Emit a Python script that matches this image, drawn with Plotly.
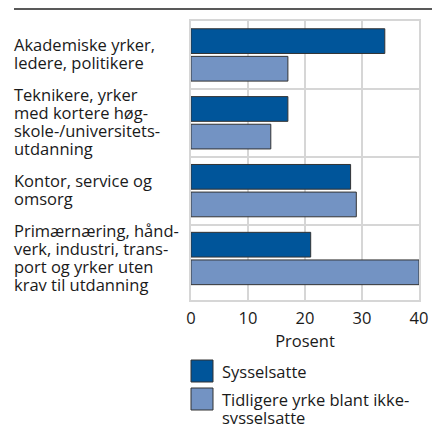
import plotly.graph_objects as go

# Data
categories = [
    "Akademiske yrker, ledere, politikere",
    "Teknikere, yrker med kortere høgskole-/universitetsutdanning",
    "Kontor, service og omsorg",
    "Primærnæring, håndverk, industri, transport og yrker uten krav til utdanning",
]
category_lines = [
    ["Akademiske yrker,", "ledere, politikere"],
    ["Teknikere, yrker", "med kortere høg-", "skole-/universitets-", "utdanning"],
    ["Kontor, service og", "omsorg"],
    ["Primærnæring, hånd-", "verk, industri, trans-", "port og yrker uten", "krav til utdanning"],
]
sysselsatte = [34, 17, 28, 21]
ikke_sysselsatte = [17, 14, 29, 40]
series_names = ["Sysselsatte", "Tidligere yrke blant ikke-sysselsatte"]
legend_lines = [["Sysselsatte"], ["Tidligere yrke blant ikke-", "sysselsatte"]]
x_ticks = [0, 10, 20, 30, 40]

dark_blue = "#00559a"
light_blue = "#7393c3"
grid = "#d6d6d6"
font_family = "Open Sans, Noto Sans, sans-serif"
text_color = "#1a1a1a"
fs = 16.5
line_h = 18  # px between text lines

W, H = 432, 424
L, T, PW, PH = 191, 21, 228, 279


def px(X):  # pixel x -> paper
    return (X - L) / PW


def py(Y):  # pixel y -> paper
    return 1 - (Y - T) / PH


fig = go.Figure()
fig.add_trace(go.Bar(y=categories, x=sysselsatte, orientation="h", name=series_names[0],
                     marker=dict(color=dark_blue, line=dict(color="#333333", width=1))))
fig.add_trace(go.Bar(y=categories, x=ikke_sysselsatte, orientation="h", name=series_names[1],
                     marker=dict(color=light_blue, line=dict(color="#333333", width=1))))

fig.update_layout(
    width=W, height=H,
    margin=dict(l=L, r=W - L - PW, t=T, b=H - T - PH, autoexpand=False),
    barmode="group", bargap=0.186, bargroupgap=0.105,
    plot_bgcolor="white", paper_bgcolor="white",
    showlegend=False,
    font=dict(family=font_family, size=fs, color=text_color),
    xaxis=dict(range=[0, 40], tickvals=x_ticks, showgrid=True, gridcolor=grid, gridwidth=2,
               showline=True, linecolor=grid, linewidth=2, mirror=True, zeroline=False,
               ticks="", ticklabelstandoff=2, automargin=False,
               title=dict(text="Prosent", standoff=1, font=dict(size=fs))),
    yaxis=dict(autorange="reversed", showticklabels=False, tickson="boundaries",
               showgrid=True, gridcolor=grid, gridwidth=2, ticks="", automargin=False,
               showline=True, linecolor=grid, linewidth=2, mirror=True),
)

# category labels, left aligned, one annotation per line
for cat, lines in zip(categories, category_lines):
    n = len(lines)
    for j, line in enumerate(lines):
        fig.add_annotation(text=line, xref="paper", yref="y", x=px(12), y=cat,
                           xanchor="left", yanchor="middle", align="left", showarrow=False,
                           yshift=((n - 1) / 2 - j) * line_h + 1, font=dict(size=fs))

# top rule
fig.add_shape(type="line", xref="paper", yref="paper", x0=px(14), x1=px(432),
              y0=py(9), y1=py(9), line=dict(color="#222222", width=1.5))

# legend
legend_colors = [dark_blue, light_blue]
box_tops = [360, 388]
for lines, col, top in zip(legend_lines, legend_colors, box_tops):
    fig.add_shape(type="rect", xref="paper", yref="paper", x0=px(191), x1=px(213),
                  y0=py(top), y1=py(top + 22), fillcolor=col,
                  line=dict(color="#333333", width=1))
    for j, line in enumerate(lines):
        fig.add_annotation(text=line, xref="paper", yref="paper", x=px(220),
                           y=py(top + 11 + j * line_h), xanchor="left", yanchor="middle",
                           align="left", showarrow=False, font=dict(size=fs))

fig.write_html("out.html", config={"displayModeBar": False},
               post_script="document.body.style.margin='0';")
